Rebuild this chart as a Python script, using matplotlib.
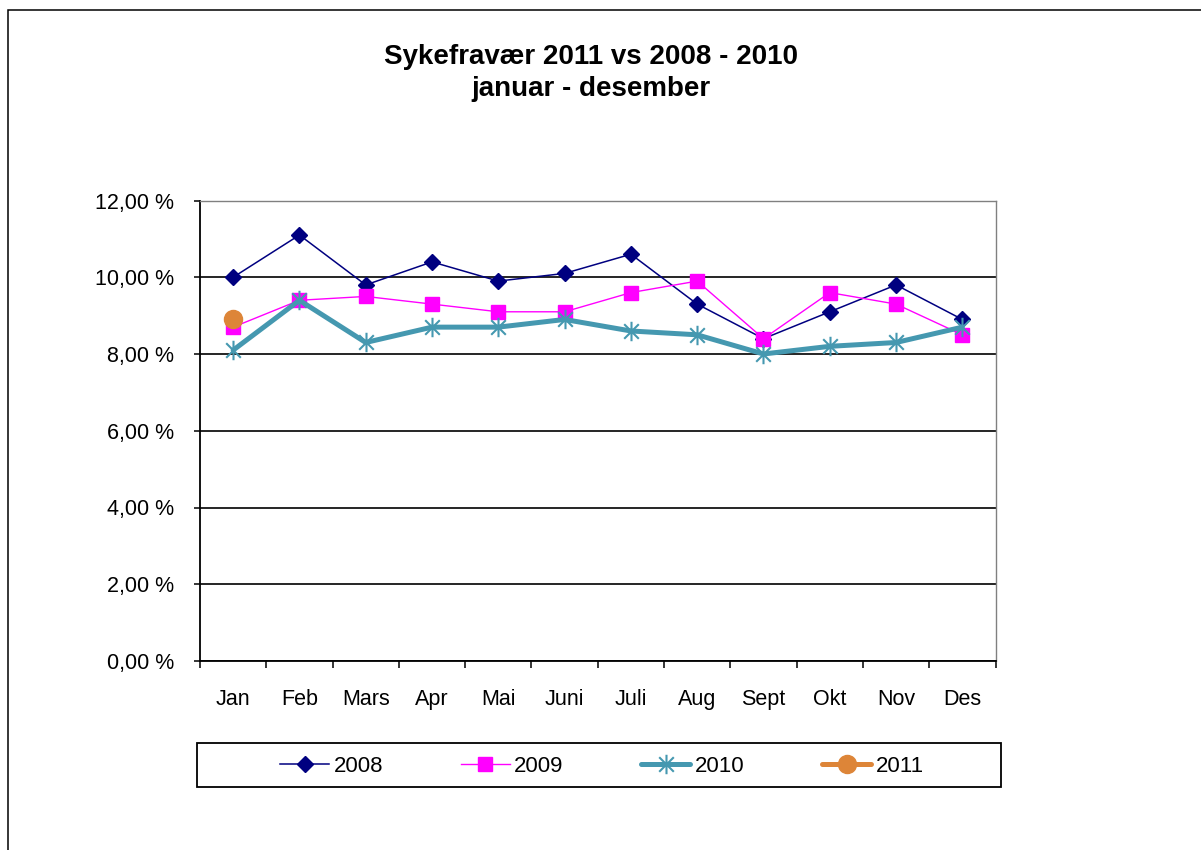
import matplotlib
matplotlib.use("Agg")
import matplotlib.pyplot as plt
from matplotlib.patches import Rectangle
from matplotlib.path import Path

plt.rcParams['font.family'] = ['Liberation Sans', 'DejaVu Sans']

# data (sykefravær i prosent)
maaneder = ["Jan", "Feb", "Mars", "Apr", "Mai", "Juni", "Juli", "Aug", "Sept", "Okt", "Nov", "Des"]
aar_2008 = [10.0, 11.1, 9.8, 10.4, 9.9, 10.1, 10.6, 9.3, 8.4, 9.1, 9.8, 8.9]
aar_2009 = [8.7, 9.4, 9.5, 9.3, 9.1, 9.1, 9.6, 9.9, 8.4, 9.6, 9.3, 8.5]
aar_2010 = [8.1, 9.4, 8.3, 8.7, 8.7, 8.9, 8.6, 8.5, 8.0, 8.2, 8.3, 8.7]
aar_2011 = [8.9]
y_ticks = [0, 2, 4, 6, 8, 10, 12]

# asterisk marker like excel (vertical + x)
stjerne = Path([(0, -1), (0, 1), (-0.75, -0.75), (0.75, 0.75), (-0.75, 0.75), (0.75, -0.75)],
               [Path.MOVETO, Path.LINETO, Path.MOVETO, Path.LINETO, Path.MOVETO, Path.LINETO])

W, H = 1201, 850
fig = plt.figure(figsize=(W / 100, H / 100), dpi=100)
ax = fig.add_axes([200 / W, 1 - 661 / H, 795.5 / W, 460.5 / H])

x = list(range(len(maaneder)))
ax.plot(x, aar_2008, color='#000080', lw=1.1, marker='D', ms=8.5, zorder=3, label='2008')
ax.plot(x, aar_2009, color='#FF00FF', lw=1.0, marker='s', ms=9.5, zorder=4, label='2009')
ax.plot(x, aar_2010, color='#4598B0', lw=3.6, marker=stjerne, ms=14, mew=1.5,
        mec='#4598B0', solid_capstyle='round', zorder=5, label='2010')
ax.plot(x[:len(aar_2011)], aar_2011, color='#DD8538', lw=3.6, marker='o', ms=13,
        solid_capstyle='round', zorder=6, label='2011')

ax.set_xlim(-0.5, len(maaneder) - 0.5)
ax.set_ylim(0, 12)
ax.set_yticks(y_ticks)
ax.set_yticklabels([f"{v:.2f}".replace('.', ',') + " %" for v in y_ticks], fontsize=15.5)
ax.set_xticks(x)
ax.set_xticklabels(maaneder, fontsize=15.5)
ax.set_xticks([i - 0.5 for i in range(len(maaneder) + 1)], minor=True)
ax.tick_params(axis='x', which='major', length=0, pad=20.5)
ax.tick_params(axis='x', which='minor', length=5, width=1.1, direction='out')
ax.tick_params(axis='y', length=4.5, width=1.1, pad=14)
ax.yaxis.grid(True, color='black', lw=1.2)
ax.set_axisbelow(True)
for s in ['left', 'bottom']:
    ax.spines[s].set_color('black')
    ax.spines[s].set_linewidth(1.3)
for s in ['top', 'right']:
    ax.spines[s].set_color('#808080')
    ax.spines[s].set_linewidth(1.0)

fig.text(591 / W, 1 - 73 / H, "Sykefravær 2011 vs 2008 - 2010\njanuar - desember",
         ha='center', va='center', fontsize=20, fontweight='bold', linespacing=1.3)

# legend with a separate box
fig.add_artist(Rectangle((197 / W, 1 - 787 / H), 804 / W, 44 / H, transform=fig.transFigure,
                         fill=False, edgecolor='black', lw=1.3))
fig.legend(loc='center', bbox_to_anchor=(602 / W, 1 - 766 / H), ncol=4, frameon=False,
           fontsize=16, handlelength=2.2, handletextpad=0.2, columnspacing=3.5)

# outer chart border
fig.add_artist(Rectangle((8 / W, -0.1), 1.2, 1 - 10 / H + 0.1, transform=fig.transFigure,
                         fill=False, edgecolor='black', lw=1.1))

fig.savefig("out.png", dpi=100)
